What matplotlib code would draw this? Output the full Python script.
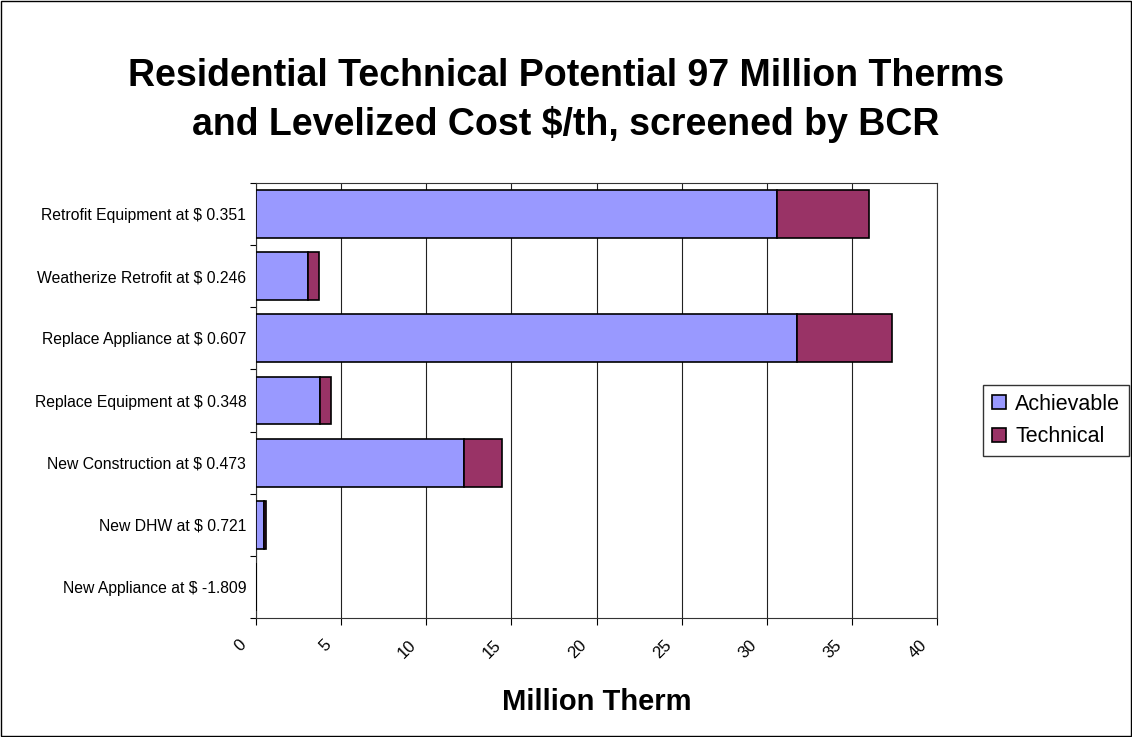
import matplotlib
matplotlib.use("Agg")
import matplotlib.pyplot as plt
import matplotlib.transforms as mtransforms
import numpy as np

plt.rcParams['font.family'] = ['Liberation Sans', 'DejaVu Sans']

categories = ["Retrofit Equipment at $ 0.351", "Weatherize Retrofit at $ 0.246",
              "Replace Appliance at $ 0.607", "Replace Equipment at $ 0.348",
              "New Construction at $ 0.473", "New DHW at $ 0.721",
              "New Appliance at $ -1.809"]
achievable = [30.6, 3.05, 31.76, 3.78, 12.21, 0.49, 0.0]
technical = [5.4, 0.65, 5.6, 0.63, 2.24, 0.1, 0.0]   # stacked on top of achievable
xticks = [0, 5, 10, 15, 20, 25, 30, 35, 40]

fig = plt.figure(figsize=(11.32, 7.37), dpi=100)
ax = fig.add_axes([256/1132, 1-618/737, (937-256)/1132, (618-183)/737])

y = np.arange(len(categories))
ax.barh(y, achievable, height=0.77, color='#9999FF', edgecolor='black', linewidth=1.2,
        label='Achievable', zorder=3)
ax.barh(y, technical, left=achievable, height=0.77, color='#993366', edgecolor='black',
        linewidth=1.2, label='Technical', zorder=3)

ax.set_ylim(len(categories)-0.5, -0.5)
ax.set_xlim(0, 40)
ax.set_yticks(y)
ax.set_yticklabels(categories, fontsize=11.3)
ax.set_yticks(np.arange(-0.5, len(categories)), minor=True)
ax.tick_params(axis='y', which='major', length=0, pad=7)
ax.tick_params(axis='y', which='minor', length=4, width=0.8)
ax.set_xticks(xticks)
ax.set_xticklabels([str(v) for v in xticks], rotation=45, ha='right', va='top', fontsize=12)
ax.tick_params(axis='x', length=5, width=0.8, pad=9)
shift = mtransforms.ScaledTranslation(-7/100, 0, fig.dpi_scale_trans)
for lab in ax.get_xticklabels():
    lab.set_transform(lab.get_transform() + shift)
ax.grid(axis='x', color='#222222', linewidth=0.8, zorder=0)
for s in ax.spines.values():
    s.set_linewidth(0.8)
    s.set_color('#333333')

ax.set_xlabel("Million Therm", fontsize=21, fontweight='bold', labelpad=19)
fig.text(0.5, 1-58/737, "Residential Technical Potential 97 Million Therms\nand Levelized Cost $/th, screened by BCR",
         fontsize=27, fontweight='bold', ha='center', va='top', linespacing=1.4)

fig.legend(loc='upper left', bbox_to_anchor=(983/1132, 1-385/737), fontsize=15.5,
           frameon=True, fancybox=False, edgecolor='black', handlelength=0.65,
           handleheight=0.65, handletextpad=0.45, labelspacing=0.55, borderpad=0.4,
           borderaxespad=0)

fig.patches.append(plt.Rectangle((0.001, 0.001), 0.998, 0.998, transform=fig.transFigure,
                                 fill=False, edgecolor='black', linewidth=1))

fig.savefig("out.png", dpi=100)
